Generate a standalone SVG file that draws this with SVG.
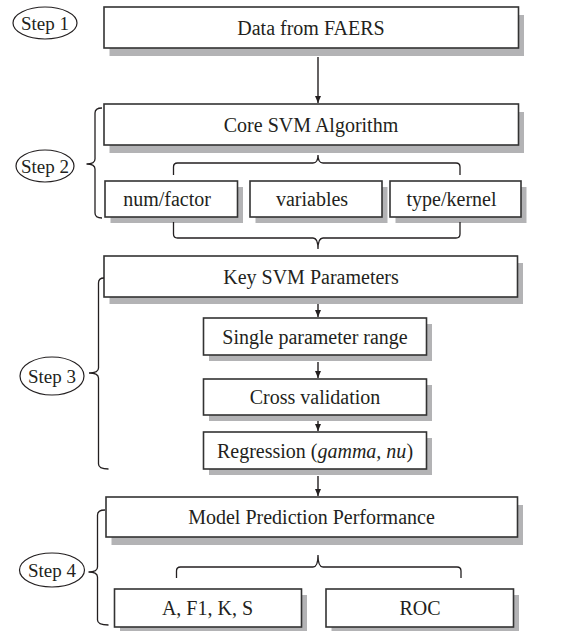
<svg xmlns="http://www.w3.org/2000/svg" width="563" height="631" viewBox="0 0 563 631">
<defs>
<style>
.box{fill:#fff;stroke:#333;stroke-width:1.6}
.sh{fill:#b3b3b5;stroke:none}
.t{font-family:"Liberation Serif","Times New Roman",serif;font-size:20px;fill:#231f20;text-anchor:middle}
.st{font-family:"Liberation Serif","Times New Roman",serif;font-size:19px;fill:#231f20;text-anchor:middle}
.ell{fill:#fff;stroke:#231f20;stroke-width:1.2}
.br{fill:none;stroke:#231f20;stroke-width:1.3}
.ar{fill:none;stroke:#231f20;stroke-width:1.4;marker-end:url(#ah)}
</style>
<marker id="ah" markerUnits="userSpaceOnUse" markerWidth="8" markerHeight="8" refX="7" refY="3" orient="auto">
<path d="M0,0 L7,3 L0,6 z" fill="#231f20"/>
</marker>
</defs>
<rect width="563" height="631" fill="#fff"/>

<g id="step1">
<ellipse class="ell" cx="45" cy="23" rx="32" ry="16"/>
<text class="st" x="45" y="29.5">Step 1</text>
</g>
<g id="step2">
<ellipse class="ell" cx="45" cy="166" rx="29" ry="16"/>
<text class="st" x="45" y="172.5">Step 2</text>
</g>
<g id="step3">
<ellipse class="ell" cx="52" cy="376" rx="32" ry="19"/>
<text class="st" x="52" y="382.5">Step 3</text>
</g>
<g id="step4">
<ellipse class="ell" cx="52" cy="570" rx="32.5" ry="17"/>
<text class="st" x="52" y="576.5">Step 4</text>
</g>

<g id="faers">
<rect class="sh" x="109.5" y="15" width="414.5" height="41"/>
<rect class="box" x="104" y="7" width="414.5" height="41"/>
<text class="t" x="311" y="34.5">Data from FAERS</text>
</g>
<g id="core">
<rect class="sh" x="109.5" y="112" width="414.5" height="41"/>
<rect class="box" x="104" y="104" width="414.5" height="41"/>
<text class="t" x="311" y="131.5">Core SVM Algorithm</text>
</g>
<g id="numfactor">
<rect class="sh" x="110.5" y="187" width="132.5" height="36"/>
<rect class="box" x="105" y="181" width="132.5" height="36"/>
<text class="t" x="167" y="205.5">num/factor</text>
</g>
<g id="variables">
<rect class="sh" x="255.5" y="187" width="132" height="36"/>
<rect class="box" x="250" y="181" width="132" height="36"/>
<text class="t" x="312" y="205.5">variables</text>
</g>
<g id="typekernel">
<rect class="sh" x="395.5" y="187" width="131" height="36"/>
<rect class="box" x="390" y="181" width="131" height="36"/>
<text class="t" x="451.5" y="205.5">type/kernel</text>
</g>
<g id="keysvm">
<rect class="sh" x="109.5" y="263" width="413.5" height="41"/>
<rect class="box" x="104" y="256" width="413.5" height="41"/>
<text class="t" x="311" y="283.5">Key SVM Parameters</text>
</g>
<g id="single">
<rect class="sh" x="209" y="324" width="223" height="37"/>
<rect class="box" x="203.5" y="318" width="223" height="37"/>
<text class="t" x="315" y="343.5">Single parameter range</text>
</g>
<g id="cross">
<rect class="sh" x="209" y="385" width="223" height="36"/>
<rect class="box" x="203.5" y="379" width="223" height="36"/>
<text class="t" x="315" y="404">Cross validation</text>
</g>
<g id="regression">
<rect class="sh" x="209" y="438" width="223" height="37"/>
<rect class="box" x="203.5" y="432" width="223" height="37"/>
<text class="t" x="315" y="457.5">Regression (<tspan font-style="italic">gamma, nu</tspan>)</text>
</g>
<g id="model">
<rect class="sh" x="111.5" y="505" width="411.5" height="40"/>
<rect class="box" x="106" y="497" width="411.5" height="40"/>
<text class="t" x="311.5" y="524">Model Prediction Performance</text>
</g>
<g id="metrics">
<rect class="sh" x="120" y="595" width="187" height="38"/>
<rect class="box" x="114.5" y="589" width="187" height="38"/>
<text class="t" x="207.5" y="615">A, F1, K, S</text>
</g>
<g id="roc">
<rect class="sh" x="331.5" y="595" width="187.5" height="38"/>
<rect class="box" x="326" y="589" width="187.5" height="38"/>
<text class="t" x="420" y="615">ROC</text>
</g>

<g id="connectors">
<line class="ar" x1="318" y1="57" x2="318" y2="103"/>
<line class="ar" x1="318" y1="304" x2="318" y2="317"/>
<line class="ar" x1="318" y1="362" x2="318" y2="378"/>
<line class="ar" x1="318" y1="421" x2="318" y2="431"/>
<line class="ar" x1="318" y1="476" x2="318" y2="496"/>
<path class="br" d="M173.5,175 L173.5,167 Q173.5,163 177.5,163 L313,163 Q318,163 318,155 Q318,163 323,163 L456,163 Q460,163 460,167 L460,175"/>
<path class="br" d="M173.5,222 L173.5,234 Q173.5,238 177.5,238 L313,238 Q318,238 318,249 Q318,238 323,238 L456,238 Q460,238 460,234 L460,222"/>
<path class="br" d="M176.5,578 L176.5,571 Q176.5,567 180.5,567 L313,567 Q318,567 318,555 Q318,567 323,567 L457,567 Q461,567 461,571 L461,578"/>
<path class="br" d="M102,108 Q95,108 95,113 L95,159 Q95,164 86.5,164 Q95,164 95,169 L95,213 Q95,218 102,218"/>
<path class="br" d="M104,278 Q98.5,278 98.5,283 L98.5,368 Q98.5,373 89,373 Q98.5,373 98.5,378 L98.5,464 Q98.5,469 108.5,469"/>
<path class="br" d="M105,510 Q97.5,510 97.5,515 L97.5,567 Q97.5,572 88.5,572 Q97.5,572 97.5,577 L97.5,620 Q97.5,625 108.5,625"/>
</g>
</svg>
